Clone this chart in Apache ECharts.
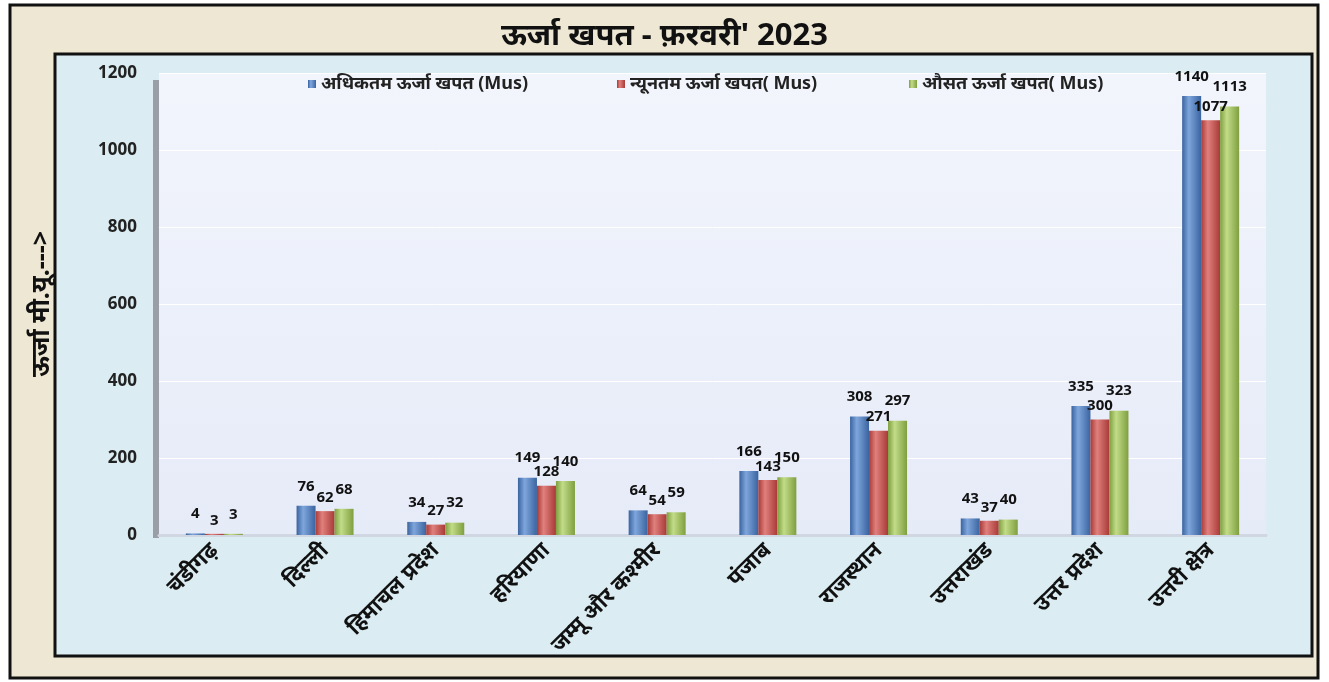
<!DOCTYPE html>
<html><head><meta charset="utf-8">
<script src="https://cdn.jsdelivr.net/npm/echarts@6/dist/echarts.min.js"></script>
<style>html,body{margin:0;padding:0;background:#fff}#c{width:1329px;height:682px}</style>
</head><body><div id="c"></div>
<script>
const categories = ['चंडीगढ़','दिल्ली','हिमाचल प्रदेश','हरियाणा','जम्मू और कश्मीर','पंजाब','राजस्थान','उत्तराखंड','उत्तर प्रदेश','उत्तरी क्षेत्र'];
const seriesNames = ['अधिकतम ऊर्जा खपत (Mus)','न्यूनतम ऊर्जा खपत( Mus)','औसत ऊर्जा खपत( Mus)'];
const maxValues = [4,76,34,149,64,166,308,43,335,1140];
const minValues = [3,62,27,128,54,143,271,37,300,1077];
const avgValues = [3,68,32,140,59,150,297,40,323,1113];
const yTicks = [0,200,400,600,800,1000,1200];

const FONT = '"Noto Sans", "DejaVu Sans", sans-serif';
function grad(dark, light) {
  return new echarts.graphic.LinearGradient(0,0,1,0,[
    {offset:0,color:dark},{offset:0.35,color:light},{offset:1,color:dark}]);
}
const colors = [grad('#3a64a0','#7fa6dc'), grad('#a83a37','#e0807d'), grad('#7f9f3f','#c2dc88')];
const solid = ['#4f81bd','#c0504d','#9bbb59'];
const dataSets = [maxValues, minValues, avgValues];

const chart = echarts.init(document.getElementById('c'));
chart.setOption({
  animation:false,
  backgroundColor:'#ffffff',
  graphic:[
    {type:'rect', z:-10, shape:{x:10,y:5,width:1308,height:673}, style:{fill:'#ede7d3',stroke:'#111',lineWidth:3}},
    {type:'rect', z:-9, shape:{x:55,y:54,width:1257,height:602}, style:{fill:'#dbedf2',stroke:'#111',lineWidth:3}},
    {type:'rect', z:-8, shape:{x:153,y:80,width:6,height:458}, style:{fill:'#9a9ea6'}}
  ],
  title:{text:"ऊर्जा खपत - फ़रवरी' 2023", left:'center', top:16,
    textStyle:{fontFamily:FONT,fontSize:31,fontWeight:'bold',color:'#111'}},
  legend:[0,1,2].map((i)=>({
    data:[{name:seriesNames[i], icon:'rect'}], top:70, left:[303,612,904][i],
    itemWidth:8,itemHeight:8,itemGap:4,
    textStyle:{fontFamily:FONT,fontSize:18,fontWeight:'bold',color:'#222'}
  })),
  grid:{left:159,right:63,top:73,bottom:147,show:true,borderWidth:0,
    backgroundColor:new echarts.graphic.LinearGradient(0,0,0,1,[{offset:0,color:'#f2f5fc'},{offset:1,color:'#e6ebf8'}])},
  xAxis:{type:'category',data:categories,
    axisLine:{show:true,lineStyle:{color:'#d0d6e2',width:3}},axisTick:{show:false},
    axisLabel:{rotate:45,interval:0,margin:12,fontFamily:FONT,fontSize:22,fontWeight:'bold',color:'#111'}},
  yAxis:{type:'value',min:0,max:1200,interval:200,
    name:'ऊर्जा मी.यू.--->',nameLocation:'middle',nameRotate:90,nameGap:105,
    nameTextStyle:{fontFamily:FONT,fontSize:25,fontWeight:'bold',color:'#111'},
    axisLine:{show:false},axisTick:{show:false},
    splitLine:{show:true,lineStyle:{color:'#ffffff',width:1}},
    axisLabel:{margin:22,fontFamily:FONT,fontSize:17,fontWeight:'bold',color:'#222',
      formatter:(v)=>yTicks.includes(v)?String(v):''}},
  series:[0,1,2].map((i)=>({
    name:seriesNames[i],type:'bar',data:dataSets[i],
    barWidth:19,barGap:'0%',
    itemStyle:{color:colors[i]},
    label:{show:true,position:'top',distance:[12,6,12][i],fontFamily:FONT,fontSize:15,fontWeight:'bold',color:'#111'}
  })),
  color:solid
});
</script></body></html>
